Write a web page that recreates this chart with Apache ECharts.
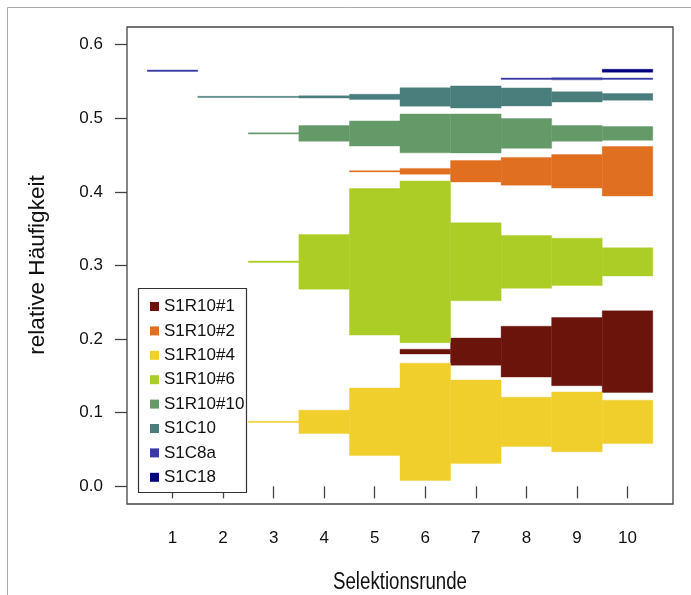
<!DOCTYPE html>
<html>
<head>
<meta charset="utf-8">
<script src="https://cdn.jsdelivr.net/npm/echarts@6/dist/echarts.min.js"></script>
<style>
  html, body { margin: 0; padding: 0; background: #fff; }
  #chart { width: 691px; height: 595px; }
</style>
</head>
<body>
<div id="chart"></div>
<script>
// Selektionsrunden 1..10
const rounds = [1, 2, 3, 4, 5, 6, 7, 8, 9, 10];
const yTicks = [0, 0.1, 0.2, 0.3, 0.4, 0.5, 0.6];

// Klon-Namen (Legende, von oben nach unten)
const clones = ['S1R10#1', 'S1R10#2', 'S1R10#4', 'S1R10#6', 'S1R10#10', 'S1C10', 'S1C8a', 'S1C18'];

// Lage jedes Bandes auf der y-Achse (Mitte), je Runde
const centreR1  = [0.183, 0.183, 0.183, 0.183, 0.183, 0.183, 0.183, 0.183, 0.183, 0.183];
const centreR2  = [0.428, 0.428, 0.428, 0.428, 0.428, 0.428, 0.428, 0.428, 0.428, 0.428];
const centreR4  = [0.0876, 0.0876, 0.0876, 0.0876, 0.0876, 0.0876, 0.0876, 0.0876, 0.0876, 0.0876];
const centreR6  = [0.305, 0.305, 0.305, 0.305, 0.305, 0.305, 0.305, 0.305, 0.305, 0.305];
const centreR10 = [0.4794, 0.4794, 0.4794, 0.4794, 0.4794, 0.4794, 0.4794, 0.4794, 0.4794, 0.4794];
const centreC10 = [0.529, 0.529, 0.529, 0.529, 0.529, 0.529, 0.529, 0.529, 0.529, 0.529];
const centreC8a = [0.5646, null, null, null, null, null, null, 0.5537, 0.5537, 0.5537];
const centreC18 = [0.5646, 0.5646, 0.5646, 0.5646, 0.5646, 0.5646, 0.5646, 0.5646, 0.5646, 0.5646];

// relative Häufigkeit je Runde (Breite des Bandes), null = nicht gefunden
const freqR1  = [null, null, null, null, null, 0.0064, 0.0368, 0.069, 0.0927, 0.1108];
const freqR2  = [null, null, null, null, 0.0015, 0.0078, 0.029, 0.0377, 0.0454, 0.0672];
const freqR4  = [null, null, 0.0015, 0.0318, 0.0917, 0.1594, 0.1135, 0.0668, 0.0813, 0.059];
const freqR6  = [null, null, 0.002, 0.0744, 0.199, 0.2197, 0.106, 0.0717, 0.0643, 0.0382];
const freqR10 = [null, null, 0.0015, 0.0214, 0.034, 0.0527, 0.053, 0.0405, 0.0214, 0.0187];
const freqC10 = [null, 0.0015, 0.0015, 0.003, 0.0073, 0.025, 0.030, 0.0245, 0.014, 0.009];
const freqC8a = [0.002, null, null, null, null, null, null, 0.0018, 0.003, 0.0018];
const freqC18 = [null, null, null, null, null, null, null, null, null, 0.004];

const colours = ['#6b140c', '#e07020', '#f0ce2c', '#abcd25', '#649a68', '#4a7e7c', '#3a3aa6', '#00007f'];

const centres = [centreR1, centreR2, centreR4, centreR6, centreR10, centreC10, centreC8a, centreC18];
const freqs = [freqR1, freqR2, freqR4, freqR6, freqR10, freqC10, freqC8a, freqC18];

const FONT = 'Liberation Sans, Arial, Helvetica, sans-serif';

function bandItem(colour) {
  return function (params, api) {
    const x = api.value(0), c = api.value(1), f = api.value(2);
    const p1 = api.coord([x - 0.5, c + f / 2]);
    const p2 = api.coord([x + 0.5, c - f / 2]);
    let y = p1[1];
    let h = p2[1] - p1[1];
    if (h < 1.2) { y = (p1[1] + p2[1]) / 2 - 0.6; h = 1.2; }
    return {
      type: 'rect',
      shape: { x: p1[0], y: y, width: p2[0] - p1[0], height: h },
      style: { fill: colour, stroke: colour, lineWidth: 0.4 }
    };
  };
}

const series = clones.map(function (name, i) {
  const data = [];
  rounds.forEach(function (r, k) {
    if (freqs[i][k] != null) data.push([r, centres[i][k], freqs[i][k]]);
  });
  return {
    name: name,
    type: 'custom',
    renderItem: bandItem(colours[i]),
    itemStyle: { color: colours[i] },
    encode: { x: 0, y: 1 },
    data: data,
    clip: true,
    silent: true
  };
});

const chart = echarts.init(document.getElementById('chart'), null, { renderer: 'canvas' });
chart.setOption({
  animation: false,
  backgroundColor: '#fff',
  grid: {
    left: 127, right: 18, top: 27, bottom: 91,
    show: true, borderColor: '#444', borderWidth: 1.3, backgroundColor: 'transparent'
  },
  xAxis: {
    type: 'value', min: 0.1, max: 10.9,
    splitLine: { show: false },
    axisLine: { show: false },
    axisTick: { show: true, inside: false, length: 12, lineStyle: { color: '#444', width: 1.3 }, customValues: rounds },
    axisLabel: { show: true, margin: 26, fontSize: 17, color: '#111', fontFamily: FONT, customValues: rounds,
      formatter: function (v) { return String(Math.round(v)); } }
  },
  yAxis: {
    type: 'value', min: -0.024, max: 0.624,
    splitLine: { show: false },
    axisLine: { show: false },
    axisTick: { show: true, inside: false, length: 12, lineStyle: { color: '#444', width: 1.3 }, customValues: yTicks },
    axisLabel: { show: true, margin: 24, fontSize: 17, color: '#111', fontFamily: FONT, customValues: yTicks,
      formatter: function (v) { return v.toFixed(1); } }
  },
  legend: {
    z: 20,
    orient: 'vertical',
    left: 150, top: 298,
    icon: 'rect',
    itemWidth: 9, itemHeight: 9,
    itemGap: 7.4,
    padding: 0,
    selectedMode: false,
    textStyle: { fontSize: 17, lineHeight: 17, color: '#111', fontFamily: FONT },
    data: clones
  },
  graphic: [
    { type: 'rect', silent: true, z: -10,
      shape: { x: 7.5, y: 7.5, width: 720, height: 700 },
      style: { fill: 'none', stroke: '#aaa', lineWidth: 1 } },
    { type: 'rect', silent: true, z: 1,
      shape: { x: 138.5, y: 288.5, width: 108, height: 204 },
      style: { fill: '#fff', stroke: '#333', lineWidth: 1.2 } },
    { type: 'text', silent: true, z: 10,
      x: 400, y: 582, scaleY: 1.32,
      style: { text: 'Selektionsrunde', fontSize: 18.7, fontFamily: FONT, fill: '#111',
        align: 'center', verticalAlign: 'middle' } },
    { type: 'text', silent: true, z: 10,
      x: 38, y: 265, rotation: Math.PI / 2, scaleY: 0.98,
      style: { text: 'relative Häufigkeit', fontSize: 22.6, fontFamily: FONT, fill: '#111',
        align: 'center', verticalAlign: 'middle' } }
  ],
  series: series
});
</script>
</body>
</html>
